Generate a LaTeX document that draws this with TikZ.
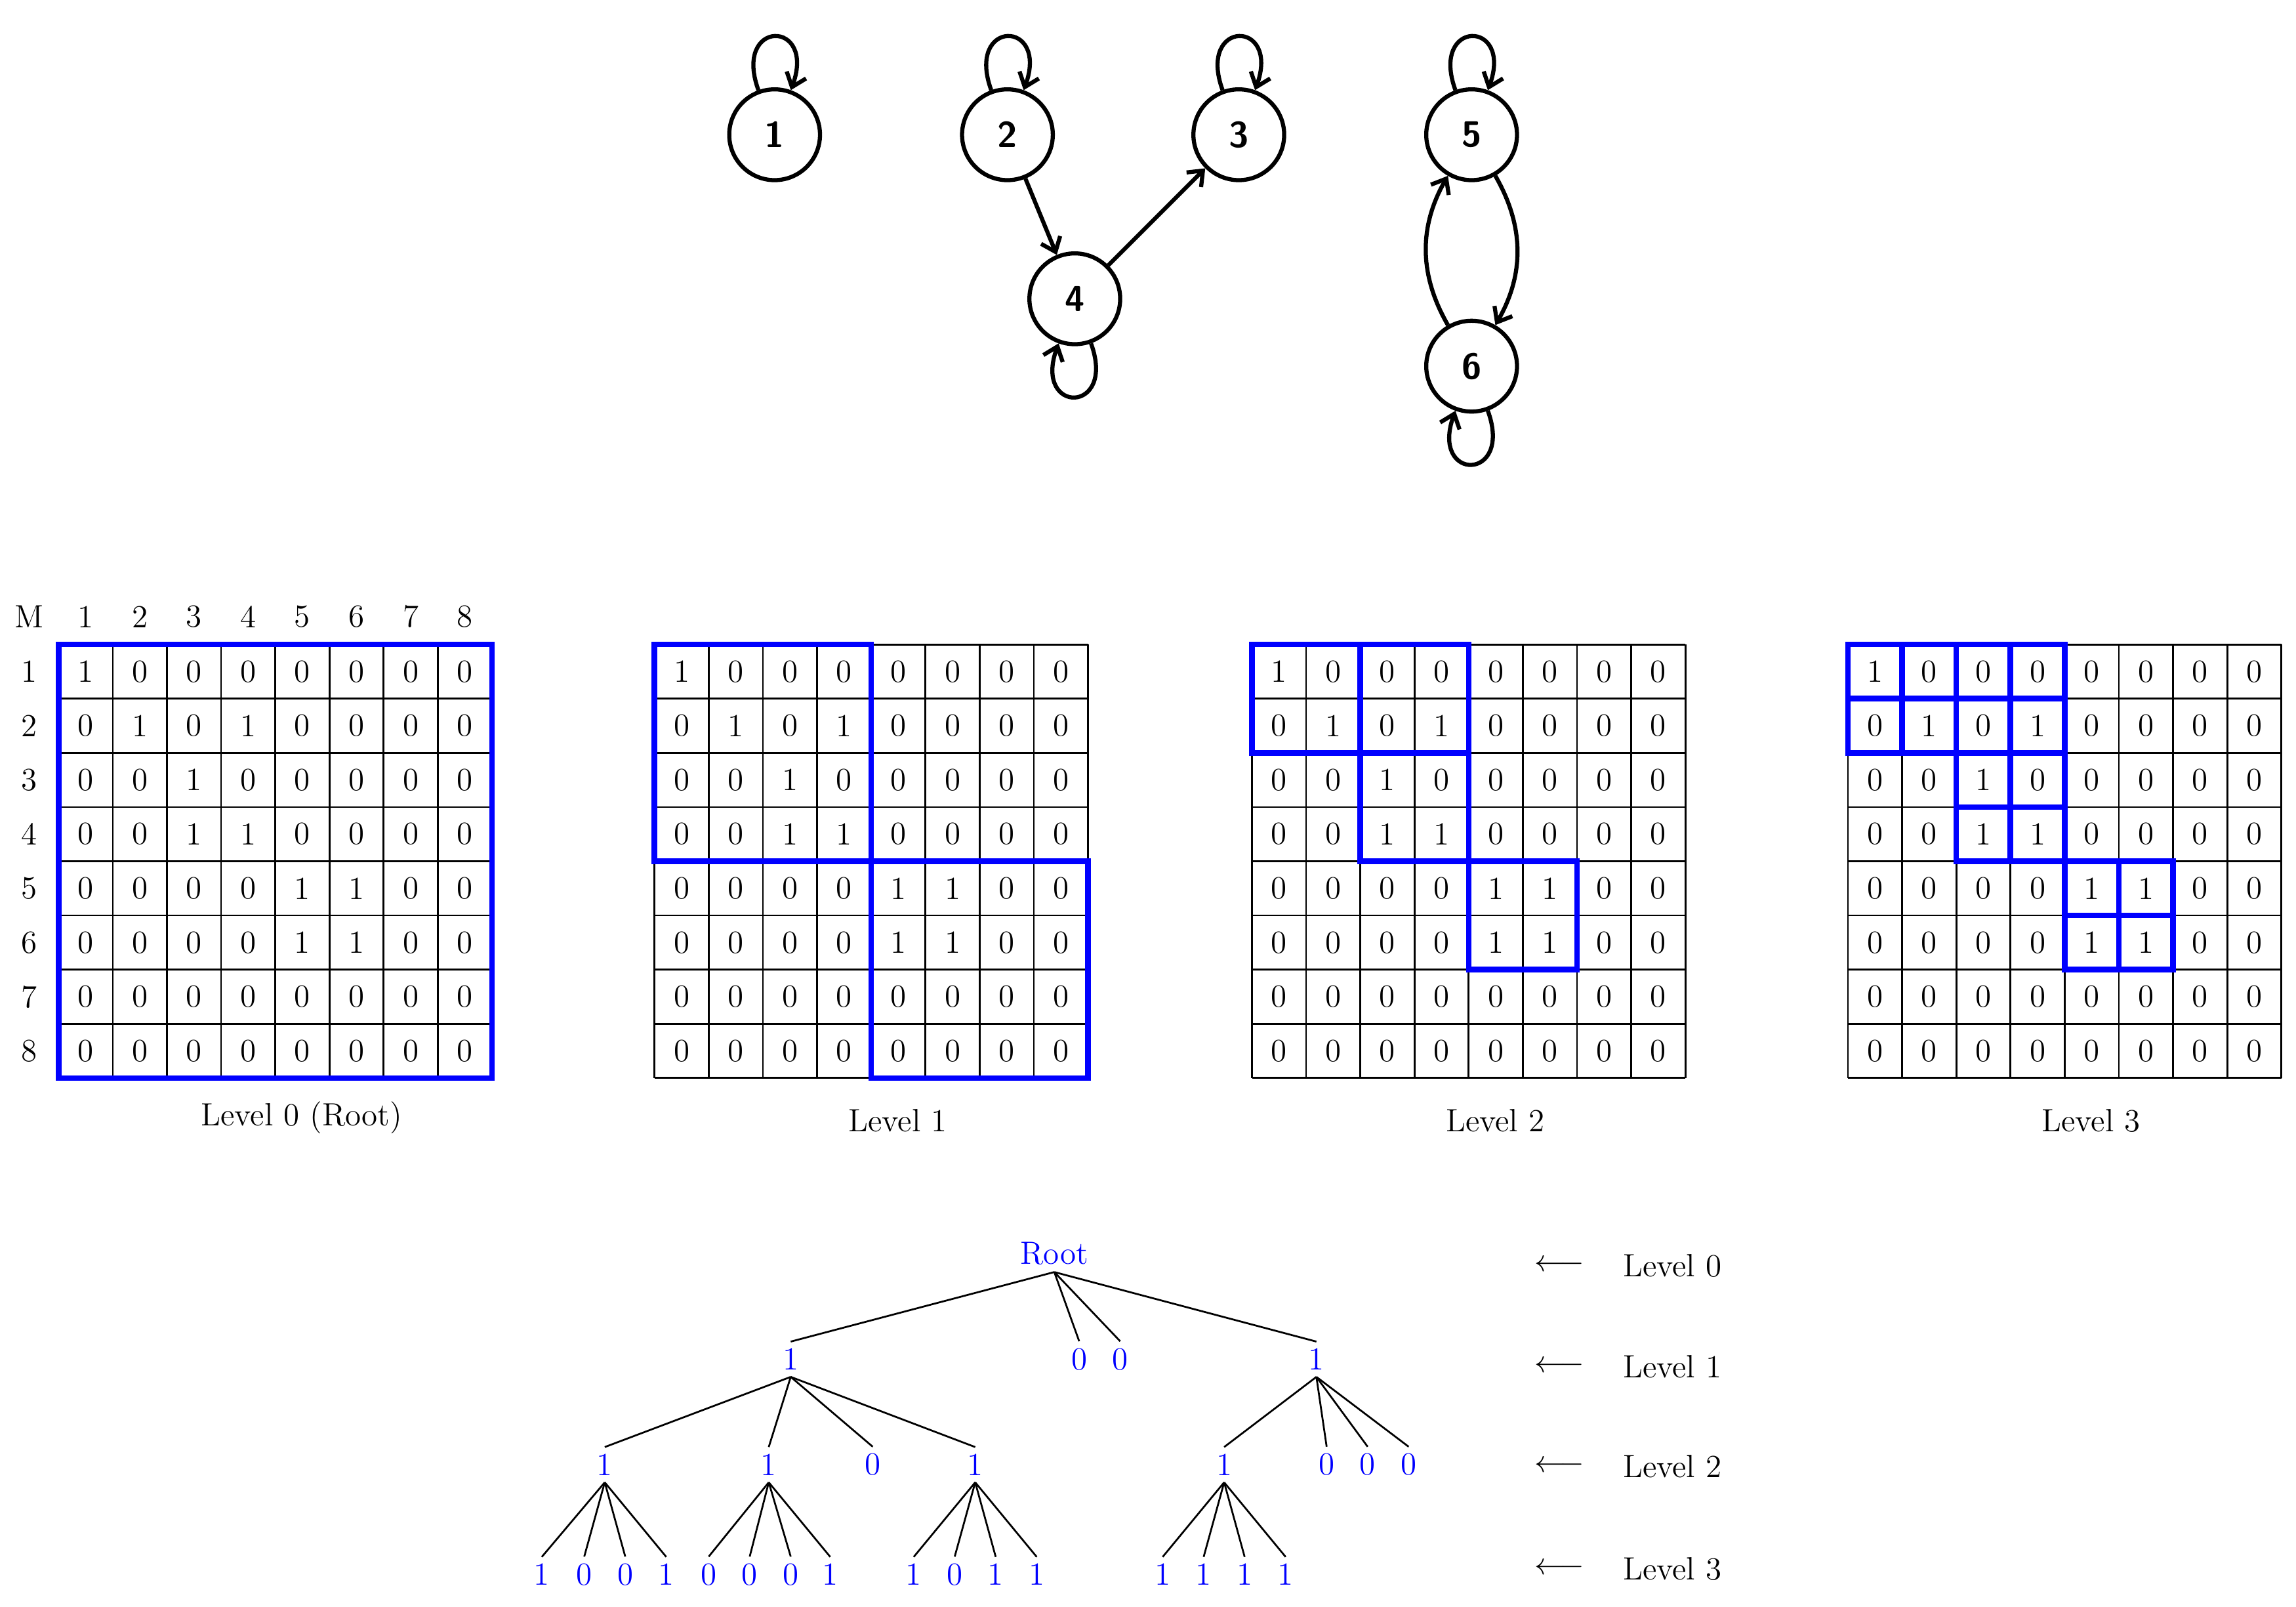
\documentclass[tikz,border=0pt]{standalone}
\usetikzlibrary{arrows.meta}
\begin{document}
\begin{tikzpicture}[x=0.02cm,y=-0.02cm,
  gnode/.style={circle,draw,line width=1.6pt,minimum size=1.24cm,inner sep=0pt,font=\sffamily\bfseries\fontsize{14}{16}\selectfont},
  garr/.style={line width=1.6pt,-{Straight Barb[length=5pt,width=8pt]}},
  txt/.style={font=\fontsize{12.5}{15}\selectfont,inner sep=0pt},
  btxt/.style={font=\fontsize{12.5}{15}\selectfont,inner sep=2.5pt,text=blue},
  blk/.style={blue,line width=2.2pt},
  tedge/.style={line width=0.7pt}]
\useasboundingbox (0,0) rectangle (1568,1097);
% graph
\node[gnode] (n1) at (529,92) {1};
\node[gnode] (n2) at (688,92) {2};
\node[gnode] (n3) at (846,92) {3};
\node[gnode] (n4) at (734,204) {4};
\node[gnode] (n5) at (1005,92) {5};
\node[gnode] (n6) at (1005,250) {6};
\foreach \n in {n1,n2,n3,n5}{\draw[garr] (\n.110) to[out=110,in=70,looseness=6] (\n.70);}
\foreach \n in {n4,n6}{\draw[garr] (\n.-70) to[out=-70,in=-110,looseness=6] (\n.-110);}
\draw[garr] (n2) -- (n4);
\draw[garr] (n4) -- (n3);
\draw[garr] (n5) to[bend left=30] (n6);
\draw[garr] (n6) to[bend left=30] (n5);
% matrices
\foreach \x [count=\k] in {40,447,855,1262}{
  \foreach \i in {0,...,8}{
    \draw[line width=0.7pt] (\x+37*\i,440) -- (\x+37*\i,736);
    \draw[line width=0.7pt] (\x,440+37*\i) -- (\x+296,440+37*\i);
  }
  \foreach \row [count=\r from 0] in {{1,0,0,0,0,0,0,0},{0,1,0,1,0,0,0,0},{0,0,1,0,0,0,0,0},{0,0,1,1,0,0,0,0},{0,0,0,0,1,1,0,0},{0,0,0,0,1,1,0,0},{0,0,0,0,0,0,0,0},{0,0,0,0,0,0,0,0}}{
    \foreach \v [count=\c from 0] in \row {
      \node[txt] (m\k-\r-\c) at (\x+37*\c+18.5,440+37*\r+18.5) {\v};
    }
  }
}
\foreach \i in {1,...,8}{
  \node[txt] (rl\i) at (20,440+37*\i-18.5) {\i};
  \node[txt] (cl\i) at (40+37*\i-18.5,421) {\i};
}
\node[txt] (mlab) at (20,421) {M};
\node[txt] (l0) at (206,763) {Level 0 (Root)};
\node[txt] (l1) at (613,765) {Level 1};
\node[txt] (l2) at (1021,765) {Level 2};
\node[txt] (l3) at (1428,765) {Level 3};
% blue blocks
\draw[blk] (40,440) rectangle ++(296,296);
\draw[blk] (447,440) rectangle ++(148,148);
\draw[blk] (595,588) rectangle ++(148,148);
\foreach \a/\b in {0/0,0/2,2/2,4/4}{
  \draw[blk] (855+37*\b,440+37*\a) rectangle ++(74,74);
}
\foreach \a/\b in {0/0,0/2,2/2,4/4}{
  \foreach \i/\j in {0/0,0/1,1/0,1/1}{
    \draw[blk] (1262+37*\b+37*\j,440+37*\a+37*\i) rectangle ++(37,37);
  }
}
% tree
\node[btxt] (root) at (720,856) {Root};
\foreach \n/\x/\t in {a/540/1,b/737/0,c/765/0,d/899/1}{\node[btxt] (\n) at (\x,928) {\t};
  \draw[tedge] (root.south) -- (\n.north);}
\foreach \n/\x/\t/\p in {aa/413/1/a,ab/525/1/a,ac/596/0/a,ad/666/1/a,da/836/1/d,db/906/0/d,dc/934/0/d,dd/962/0/d}{\node[btxt] (\n) at (\x,1000) {\t};
  \draw[tedge] (\p.south) -- (\n.north);}
\foreach \n/\x/\t/\p in {e1/370/1/aa,e2/399/0/aa,e3/427/0/aa,e4/455/1/aa,f1/484/0/ab,f2/512/0/ab,f3/540/0/ab,f4/567/1/ab,g1/624/1/ad,g2/652/0/ad,g3/680/1/ad,g4/708/1/ad,h1/794/1/da,h2/822/1/da,h3/850/1/da,h4/878/1/da}{\node[btxt] (\n) at (\x,1075) {\t};
  \draw[tedge] (\p.south) -- (\n.north);}
\foreach \y [count=\i from 0] in {864,933,1001,1071}{
  \node[txt] (ar\i) at (1065,\y) {$\longleftarrow$};
  \node[txt,anchor=west] (lv\i) at (1108,\y) {Level \i};
}
\end{tikzpicture}
\end{document}
